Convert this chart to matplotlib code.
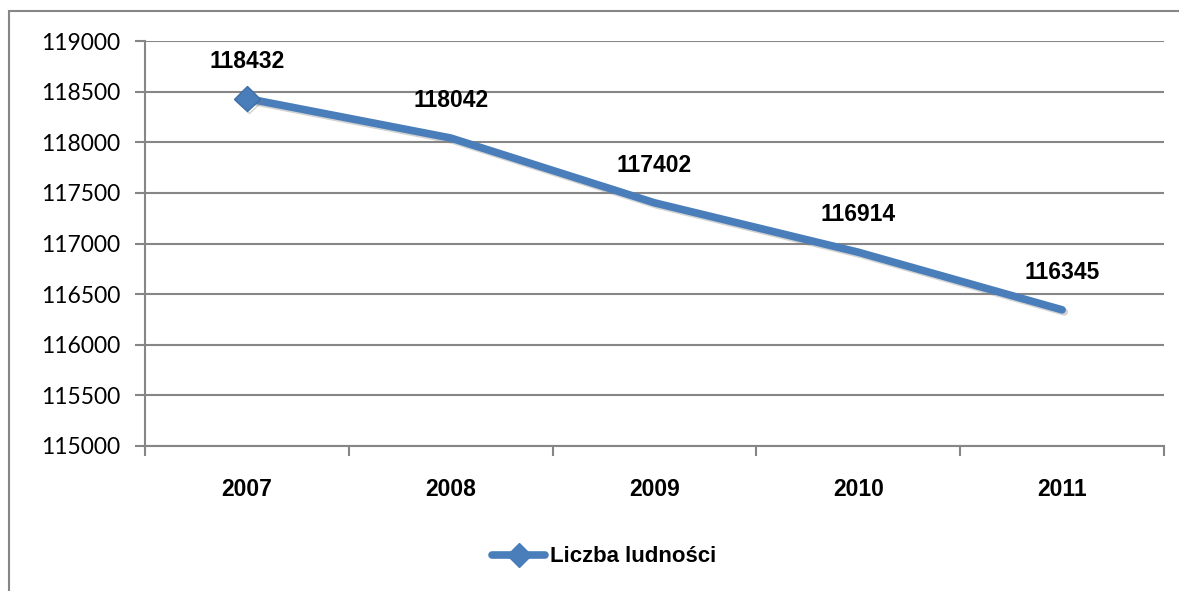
import matplotlib.pyplot as plt
import matplotlib.patheffects as pe
from matplotlib.lines import Line2D
from matplotlib.patches import Rectangle

years = ['2007', '2008', '2009', '2010', '2011']
population = [118432, 118042, 117402, 116914, 116345]
yticks = list(range(115000, 119001, 500))

plt.rcParams['font.family'] = ['Lato', 'DejaVu Sans']
bold_font = ['Liberation Sans', 'DejaVu Sans']

fig = plt.figure(figsize=(11.79, 5.91), dpi=100)
ax = fig.add_axes([145 / 1179, 1 - 446 / 591, 1019 / 1179, 405 / 591])

blue = '#4a7ebb'
grid = '#868686'
x = list(range(len(years)))

shadow = [pe.SimpleLineShadow(offset=(1.5, -1.5), shadow_color='#7f7f7f', alpha=0.35), pe.Normal()]
ax.plot(x, population, color=blue, lw=5.5, solid_capstyle='round', solid_joinstyle='round',
        path_effects=shadow, zorder=3)
ax.plot(x[0], population[0], marker='D', ms=13, color=blue, mec='#3f6fa8', mew=1,
        path_effects=shadow, zorder=4)

for xi, v in zip(x, population):
    ax.annotate(str(v), (xi, v), xytext=(0, 27), textcoords='offset points', ha='center', va='center',
                fontsize=16.5, fontweight='bold', family=bold_font, color='black')

ax.set_ylim(115000, 119000)
ax.set_xlim(-0.5, len(years) - 0.5)
ax.set_yticks(yticks)
ax.set_yticklabels([str(t) for t in yticks], fontsize=16.5)
ax.set_xticks(x)
ax.set_xticklabels(years, fontsize=16.5, fontweight='bold', family=bold_font)
ax.tick_params(axis='x', length=0, pad=23)
ax.tick_params(axis='y', length=7, width=1.5, color=grid, pad=11)

# minor ticks between categories
ax.set_xticks([i - 0.5 for i in range(len(years) + 1)], minor=True)
ax.tick_params(axis='x', which='minor', length=7, width=1.5, color=grid, direction='out')

ax.grid(axis='y', color=grid, lw=1.5)
ax.set_axisbelow(True)
for s in ['top', 'right']:
    ax.spines[s].set_visible(False)
for s in ['left', 'bottom']:
    ax.spines[s].set_color(grid)
    ax.spines[s].set_linewidth(1.5)

handle = Line2D([], [], color=blue, lw=5.5, marker='D', ms=12, solid_capstyle='round')
fig.legend([handle], ['Liczba ludności'], loc='center', bbox_to_anchor=(604 / 1179, 1 - 557 / 591),
           frameon=False, prop={'size': 16, 'weight': 'bold', 'family': bold_font},
           handlelength=2.4, handletextpad=0.2)

fig.patches.append(Rectangle((9 / 1179, -0.1), 1.2, 1 - 11 / 591 + 0.1, transform=fig.transFigure,
                             fill=False, edgecolor=grid, lw=1.5))

fig.savefig('out.png', dpi=100)
